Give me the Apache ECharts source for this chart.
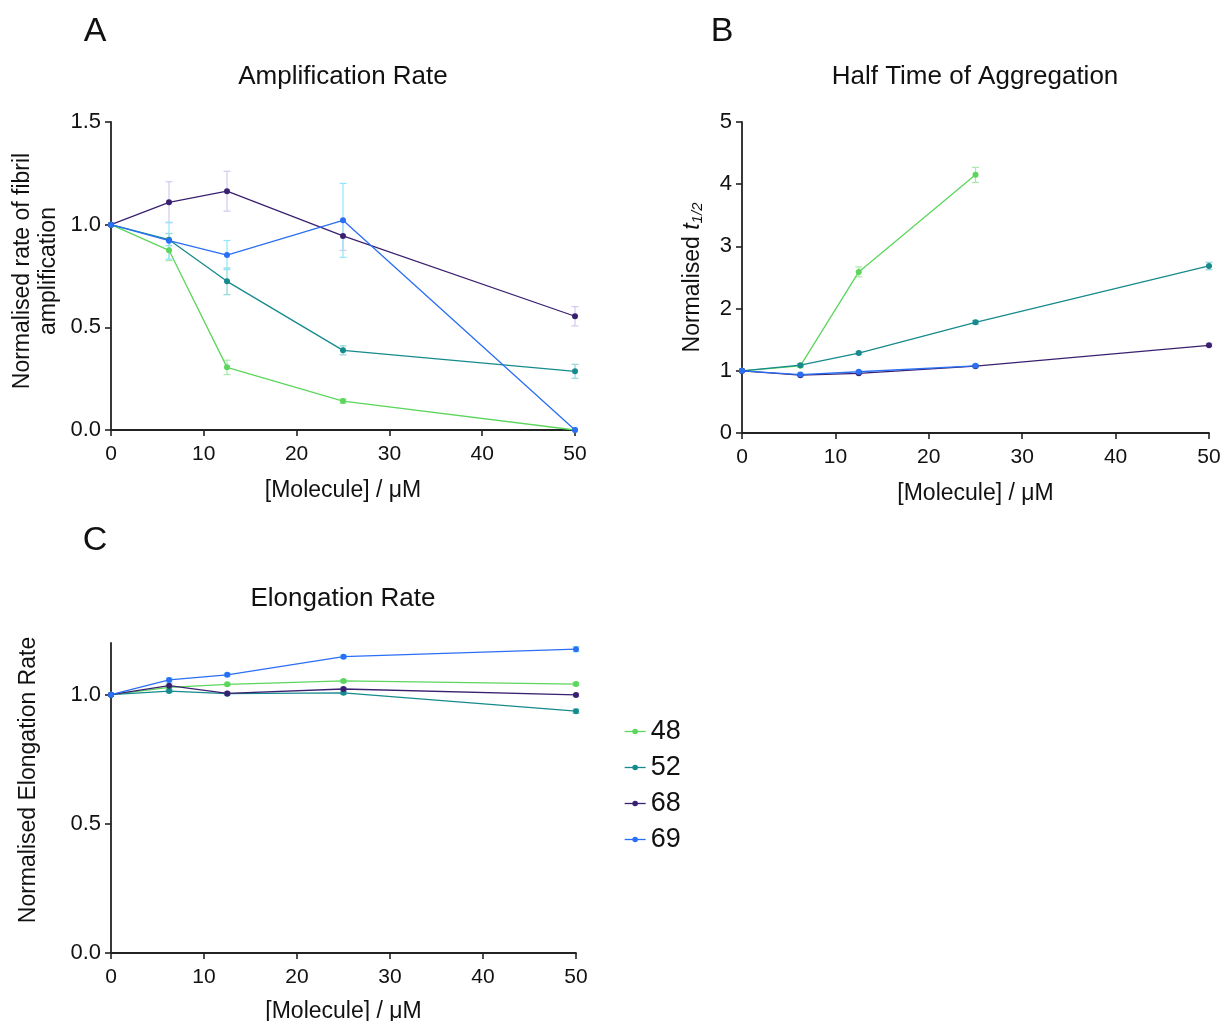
<!DOCTYPE html>
<html>
<head>
<meta charset="utf-8">
<title>Molecule dose response</title>
<script src="https://cdn.jsdelivr.net/npm/echarts@6/dist/echarts.min.js"></script>
<style>
  html, body { margin: 0; padding: 0; background: #ffffff; }
  #chart { width: 1224px; height: 1021px; }
</style>
</head>
<body>
<div id="chart"></div>
<script>
// Concentrations of each molecule (µM)
const doses = [0, 6.25, 12.5, 25, 50];
const seriesNames = ['48', '52', '68', '69'];

// A: normalised rate of fibril amplification (mean, error)
const amp48 = [1.0, 0.875, 0.305, 0.141, 0.0];
const amp48Err = [0, 0.05, 0.035, 0.01, 0];
const amp52 = [1.0, 0.927, 0.724, 0.388, 0.286];
const amp52Err = [0, 0.03, 0.065, 0.022, 0.034];
const amp68 = [1.0, 1.109, 1.163, 0.945, 0.554];
const amp68Err = [0, 0.1, 0.097, 0.07, 0.047];
const amp69 = [1.0, 0.922, 0.852, 1.021, 0.0];
const amp69Err = [0, 0.09, 0.071, 0.18, 0];

// B: normalised half time of aggregation
const half48 = [1.0, 1.08, 2.59, 4.15, null];
const half48Err = [0, 0.02, 0.08, 0.12, 0];
const half52 = [1.0, 1.09, 1.285, 1.78, 2.685];
const half52Err = [0, 0.02, 0.02, 0.03, 0.06];
const half68 = [1.0, 0.93, 0.96, 1.075, 1.41];
const half68Err = [0, 0.02, 0.02, 0.02, 0.02];
const half69 = [1.0, 0.94, 0.985, 1.08, null];
const half69Err = [0, 0.02, 0.02, 0.02, 0];

// C: normalised elongation rate
const elo48 = [1.0, 1.028, 1.040, 1.053, 1.041];
const elo48Err = [0, 0.006, 0.005, 0.005, 0.006];
const elo52 = [1.0, 1.014, 1.004, 1.007, 0.936];
const elo52Err = [0, 0.006, 0.005, 0.006, 0.008];
const elo68 = [1.0, 1.035, 1.005, 1.022, 0.999];
const elo68Err = [0, 0.006, 0.005, 0.006, 0.006];
const elo69 = [1.0, 1.057, 1.077, 1.147, 1.176];
const elo69Err = [0, 0.008, 0.006, 0.006, 0.01];

// Tick values
const xTicks = [0, 10, 20, 30, 40, 50];
const ampTicks = [0, 0.5, 1.0, 1.5];
const halfTicks = [0, 1, 2, 3, 4, 5];
const eloTicks = [0, 0.5, 1.0];

const lineColors = { '48': '#5cd65c', '52': '#168a8c', '68': '#3a2070', '69': '#2a6ff5' };
const barColors = { '48': '#a9e9a9', '52': '#93d6d8', '68': '#d6c8ee', '69': '#8fe6fb' };

const FONT = '"Liberation Sans", Arial, Helvetica, sans-serif';

const panels = [
  { values: [amp48, amp52, amp68, amp69], errors: [amp48Err, amp52Err, amp68Err, amp69Err] },
  { values: [half48, half52, half68, half69], errors: [half48Err, half52Err, half68Err, half69Err] },
  { values: [elo48, elo52, elo68, elo69], errors: [elo48Err, elo52Err, elo68Err, elo69Err] }
];

function errorBarRender(params, api) {
  const err = api.value(2);
  if (!(err > 0)) return null;
  const x = api.value(0), y = api.value(1);
  const top = api.coord([x, y + err]);
  const bot = api.coord([x, y - err]);
  const hw = 3.5;
  const style = { stroke: api.visual('color'), lineWidth: 1.2 };
  return {
    type: 'group',
    children: [
      { type: 'line', shape: { x1: top[0], y1: top[1], x2: bot[0], y2: bot[1] }, style },
      { type: 'line', shape: { x1: top[0] - hw, y1: top[1], x2: top[0] + hw, y2: top[1] }, style },
      { type: 'line', shape: { x1: bot[0] - hw, y1: bot[1], x2: bot[0] + hw, y2: bot[1] }, style }
    ]
  };
}

const series = [];
panels.forEach((panel, p) => {
  seriesNames.forEach((name, i) => {
    const vals = panel.values[i];
    const errs = panel.errors[i];
    series.push({
      type: 'custom',
      name: name + ' err',
      xAxisIndex: p, yAxisIndex: p,
      renderItem: errorBarRender,
      itemStyle: { color: barColors[name] },
      data: doses.map((d, k) => vals[k] == null ? null : [d, vals[k], errs[k]]).filter(v => v),
      z: 1,
      silent: true
    });
  });
  seriesNames.forEach((name, i) => {
    const vals = panel.values[i];
    series.push({
      type: 'line',
      name: name,
      xAxisIndex: p, yAxisIndex: p,
      data: doses.map((d, k) => [d, vals[k]]),
      connectNulls: false,
      symbol: 'circle',
      symbolSize: 6,
      showSymbol: true,
      color: lineColors[name],
      lineStyle: { width: 1.3, color: lineColors[name] },
      itemStyle: { color: lineColors[name] },
      z: 3,
      animation: false
    });
  });
});

const axisLine = { show: true, lineStyle: { color: '#222222', width: 1.8 } };
const axisTick = { show: true, inside: false, length: 6, lineStyle: { color: '#222222', width: 1.6 } };

function xAxis(gridIndex, nameGap) {
  return {
    type: 'value', gridIndex, min: 0, max: 50, interval: 10,
    axisLine, axisTick, splitLine: { show: false },
    axisLabel: { fontSize: 21, color: '#111', margin: 14, fontFamily: FONT },
    name: '[Molecule] / μM', nameLocation: 'middle', nameGap,
    nameTextStyle: { fontSize: 23, color: '#111', fontFamily: FONT }
  };
}

const option = {
  animation: false,
  backgroundColor: '#ffffff',
  textStyle: { fontFamily: FONT },
  grid: [
    { left: 111, top: 122, width: 464, height: 308, outerBoundsMode: 'none' },
    { left: 742, top: 122, width: 467, height: 311, outerBoundsMode: 'none' },
    { left: 111, top: 643, width: 465, height: 310, outerBoundsMode: 'none' }
  ],
  xAxis: [xAxis(0, 49), xAxis(1, 49), xAxis(2, 47)],
  yAxis: [
    {
      type: 'value', gridIndex: 0, min: ampTicks[0], max: ampTicks[ampTicks.length - 1], interval: 0.5,
      axisLine, axisTick, splitLine: { show: false },
      axisLabel: { fontSize: 22, color: '#111', margin: 10, fontFamily: FONT, formatter: v => v.toFixed(1) },
      name: 'Normalised rate of fibril\namplification', nameLocation: 'middle', nameGap: 49,
      nameTextStyle: { fontSize: 23, color: '#111', lineHeight: 26, fontFamily: FONT, padding: [0, 0, 0, 10] }
    },
    {
      type: 'value', gridIndex: 1, min: halfTicks[0], max: halfTicks[halfTicks.length - 1], interval: 1,
      axisLine, axisTick, splitLine: { show: false },
      axisLabel: { fontSize: 22, color: '#111', margin: 10, fontFamily: FONT },
      name: '{n|Normalised }{t|t}{s|1/2}', nameLocation: 'middle', nameGap: 37,
      nameTextStyle: {
        fontSize: 23, color: '#111', fontFamily: FONT,
        rich: {
          n: { fontSize: 23, color: '#111', fontFamily: FONT },
          t: { fontSize: 23, color: '#111', fontStyle: 'italic', fontFamily: FONT },
          s: { fontSize: 15, color: '#111', fontStyle: 'italic', fontFamily: FONT, verticalAlign: 'bottom', padding: [10, 0, 0, 0] }
        }
      }
    },
    {
      type: 'value', gridIndex: 2, min: 0, max: 1.2, interval: 0.5,
      axisLine,
      axisTick: Object.assign({}, axisTick, { customValues: eloTicks }),
      splitLine: { show: false },
      axisLabel: { fontSize: 22, color: '#111', margin: 10, fontFamily: FONT, customValues: eloTicks, formatter: v => v.toFixed(1) },
      name: 'Normalised Elongation Rate', nameLocation: 'middle', nameGap: 71,
      nameTextStyle: { fontSize: 23, color: '#111', fontFamily: FONT, padding: [0, 0, 0, 36] }
    }
  ],
  legend: {
    data: seriesNames,
    orient: 'vertical',
    left: 619, top: 713,
    itemWidth: 21, itemHeight: 7, itemGap: 9,
    lineStyle: { width: 1.3 },
    textStyle: { fontSize: 27, color: '#111', fontFamily: FONT },
    selectedMode: false
  },
  graphic: [
    { type: 'text', x: 95, y: 32, style: { text: 'A', font: '34px ' + FONT, fill: '#111', align: 'center', verticalAlign: 'middle' } },
    { type: 'text', x: 722, y: 32, style: { text: 'B', font: '34px ' + FONT, fill: '#111', align: 'center', verticalAlign: 'middle' } },
    { type: 'text', x: 95, y: 541, style: { text: 'C', font: '34px ' + FONT, fill: '#111', align: 'center', verticalAlign: 'middle' } },
    { type: 'text', x: 343, y: 77, style: { text: 'Amplification Rate', font: '26px ' + FONT, fill: '#111', align: 'center', verticalAlign: 'middle' } },
    { type: 'text', x: 975, y: 77, style: { text: 'Half Time of Aggregation', font: '26px ' + FONT, fill: '#111', align: 'center', verticalAlign: 'middle' } },
    { type: 'text', x: 343, y: 599, style: { text: 'Elongation Rate', font: '26px ' + FONT, fill: '#111', align: 'center', verticalAlign: 'middle' } }
  ],
  series
};

const chart = echarts.init(document.getElementById('chart'), null, { renderer: 'canvas' });
chart.setOption(option);
</script>
</body>
</html>
